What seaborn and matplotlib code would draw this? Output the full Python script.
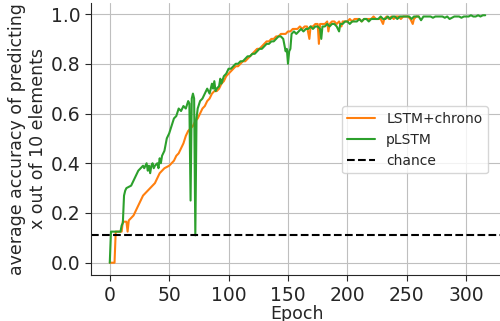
#!/usr/bin/env python3
"""
LSTM+chrono vs pLSTM accuracy curve
"""

import matplotlib
matplotlib.use('Agg')
import matplotlib.pyplot as plt
import seaborn as sns

# LSTM+chrono (epoch, accuracy)
chrono_epochs = [0, 4, 5, 10, 11, 14, 15, 16, 18, 20, 22, 24, 26, 28, 30, 32, 34, 36, 38, 40,
                 42, 44, 46, 48, 50, 52, 54, 56, 58, 60, 62, 64, 66, 68, 70, 72, 74, 76, 78, 80,
                 82, 84, 86, 88, 90, 92, 94, 96, 98, 100, 102, 104, 106, 108, 110, 112, 114, 116, 118, 120,
                 122, 124, 126, 128, 130, 132, 134, 136, 138, 140, 142, 144, 146, 148, 150, 152, 154, 156, 158, 160,
                 162, 164, 166, 168, 169, 171, 173, 175, 176, 177, 179, 181, 183, 184, 185, 187, 189, 191, 193, 195,
                 196, 198, 200, 202, 204, 206, 208, 210, 212, 214, 216, 218, 220, 222, 224, 226, 228, 230, 231, 233,
                 235, 237, 239, 241, 243, 245, 247, 249, 251, 253, 255, 256, 258, 260]
chrono_acc = [0.0, 0.0, 0.125, 0.125, 0.165, 0.165, 0.125, 0.17, 0.18, 0.19, 0.21, 0.23, 0.25, 0.27, 0.28, 0.29, 0.30, 0.31, 0.32, 0.34,
              0.36, 0.37, 0.38, 0.385, 0.39, 0.40, 0.41, 0.43, 0.44, 0.46, 0.48, 0.51, 0.53, 0.54, 0.55, 0.57, 0.58, 0.60, 0.62, 0.63,
              0.65, 0.66, 0.68, 0.69, 0.69, 0.70, 0.72, 0.73, 0.75, 0.76, 0.77, 0.78, 0.79, 0.79, 0.80, 0.81, 0.81, 0.82, 0.83, 0.84,
              0.85, 0.86, 0.86, 0.87, 0.88, 0.89, 0.89, 0.90, 0.90, 0.91, 0.91, 0.92, 0.92, 0.92, 0.93, 0.93, 0.94, 0.94, 0.94, 0.95,
              0.94, 0.95, 0.95, 0.90, 0.95, 0.95, 0.96, 0.96, 0.88, 0.96, 0.96, 0.96, 0.97, 0.93, 0.96, 0.97, 0.97, 0.96, 0.97, 0.95,
              0.97, 0.97, 0.97, 0.98, 0.97, 0.98, 0.98, 0.98, 0.97, 0.98, 0.98, 0.98, 0.98, 0.99, 0.98, 0.98, 0.98, 0.96, 0.98, 0.99,
              0.98, 0.99, 0.98, 0.99, 0.99, 0.98, 0.99, 0.99, 0.99, 0.98, 0.96, 0.98, 0.99, 0.99]

# pLSTM (epoch, accuracy)
plstm_epochs = [0, 1, 9, 10, 11, 12, 13, 14, 16, 18, 20, 22, 24, 26, 27, 28, 29, 30, 31, 32,
                33, 34, 35, 36, 37, 38, 40, 41, 42, 43, 44, 46, 48, 50, 52, 54, 56, 58, 60, 62,
                64, 66, 67, 68, 69, 70, 71, 72, 73, 74, 76, 78, 80, 82, 84, 86, 87, 88, 89, 90,
                92, 93, 94, 96, 98, 100, 102, 104, 106, 108, 110, 112, 114, 116, 118, 120, 122, 124, 126, 128,
                130, 132, 134, 136, 138, 140, 142, 144, 146, 148, 149, 150, 151, 152, 153, 155, 157, 159, 161, 163,
                165, 167, 169, 171, 173, 175, 177, 178, 179, 181, 183, 185, 187, 189, 191, 193, 194, 196, 198, 200,
                202, 204, 206, 208, 210, 212, 214, 216, 218, 220, 222, 224, 226, 228, 230, 232, 234, 236, 238, 240,
                242, 244, 246, 248, 250, 252, 254, 256, 258, 260, 262, 264, 266, 268, 270, 272, 274, 276, 278, 280,
                282, 284, 286, 288, 290, 292, 294, 296, 298, 300, 302, 304, 306, 308, 310, 312, 314, 316]
plstm_acc = [0.0, 0.125, 0.125, 0.15, 0.16, 0.27, 0.29, 0.30, 0.305, 0.31, 0.33, 0.35, 0.37, 0.38, 0.385, 0.39, 0.38, 0.39, 0.40, 0.37,
             0.39, 0.36, 0.39, 0.40, 0.38, 0.39, 0.40, 0.38, 0.42, 0.40, 0.43, 0.45, 0.50, 0.52, 0.55, 0.58, 0.59, 0.62, 0.61, 0.63,
             0.62, 0.65, 0.64, 0.25, 0.66, 0.68, 0.66, 0.11, 0.58, 0.62, 0.65, 0.66, 0.68, 0.70, 0.68, 0.72, 0.70, 0.73, 0.69, 0.70,
             0.71, 0.74, 0.72, 0.75, 0.76, 0.78, 0.78, 0.79, 0.80, 0.80, 0.81, 0.81, 0.82, 0.83, 0.83, 0.84, 0.84, 0.85, 0.86, 0.86,
             0.87, 0.88, 0.88, 0.89, 0.89, 0.90, 0.91, 0.91, 0.90, 0.85, 0.86, 0.80, 0.85, 0.86, 0.92, 0.93, 0.92, 0.93, 0.94, 0.93,
             0.94, 0.94, 0.95, 0.94, 0.95, 0.95, 0.94, 0.90, 0.95, 0.95, 0.96, 0.95, 0.96, 0.96, 0.95, 0.93, 0.96, 0.96, 0.97, 0.97,
             0.96, 0.97, 0.97, 0.97, 0.98, 0.97, 0.98, 0.98, 0.97, 0.98, 0.98, 0.98, 0.98, 0.99, 0.98, 0.98, 0.99, 0.98, 0.99, 0.99,
             0.98, 0.99, 0.99, 0.99, 0.99, 0.99, 0.98, 0.99, 0.99, 0.99, 0.975, 0.99, 0.99, 0.99, 0.99, 0.985, 0.99, 0.99, 0.99, 0.99,
             0.985, 0.99, 0.98, 0.985, 0.99, 0.99, 0.99, 0.985, 0.99, 0.99, 0.99, 0.995, 0.99, 0.99, 0.995, 0.99, 0.995, 0.995]

chance = 1 / 9

sns.set_style('whitegrid', {'axes.edgecolor': '.15', 'grid.color': '.75',
                            'xtick.bottom': True, 'ytick.left': True})
plt.rcParams['font.family'] = ['DejaVu Sans']

fig, ax = plt.subplots(figsize=(5, 3.21), dpi=100)
fig.subplots_adjust(left=0.182, right=1.008, bottom=0.143, top=0.991)

sns.lineplot(x=chrono_epochs, y=chrono_acc, color='tab:orange', linewidth=1.5, label='LSTM+chrono', ax=ax)
sns.lineplot(x=plstm_epochs, y=plstm_acc, color='tab:green', linewidth=1.5, label='pLSTM', ax=ax)
ax.axhline(chance, color='black', linestyle='--', linewidth=1.5, label='chance')

ax.set_xlabel('Epoch', fontsize=12.5, labelpad=0)
ax.set_ylabel('average accuracy of predicting\nx out of 10 elements', fontsize=12.5, labelpad=3)
ax.tick_params(labelsize=13.5, length=4, color='.15')
ax.set_xticks([0, 50, 100, 150, 200, 250, 300])
ax.set_yticks([0.0, 0.2, 0.4, 0.6, 0.8, 1.0])
sns.despine(ax=ax)

ax.legend(loc='center right', bbox_to_anchor=(0.976, 0.564), bbox_transform=fig.transFigure,
          borderaxespad=0, fontsize=10)

plt.savefig('out.png', dpi=100)
plt.close()
